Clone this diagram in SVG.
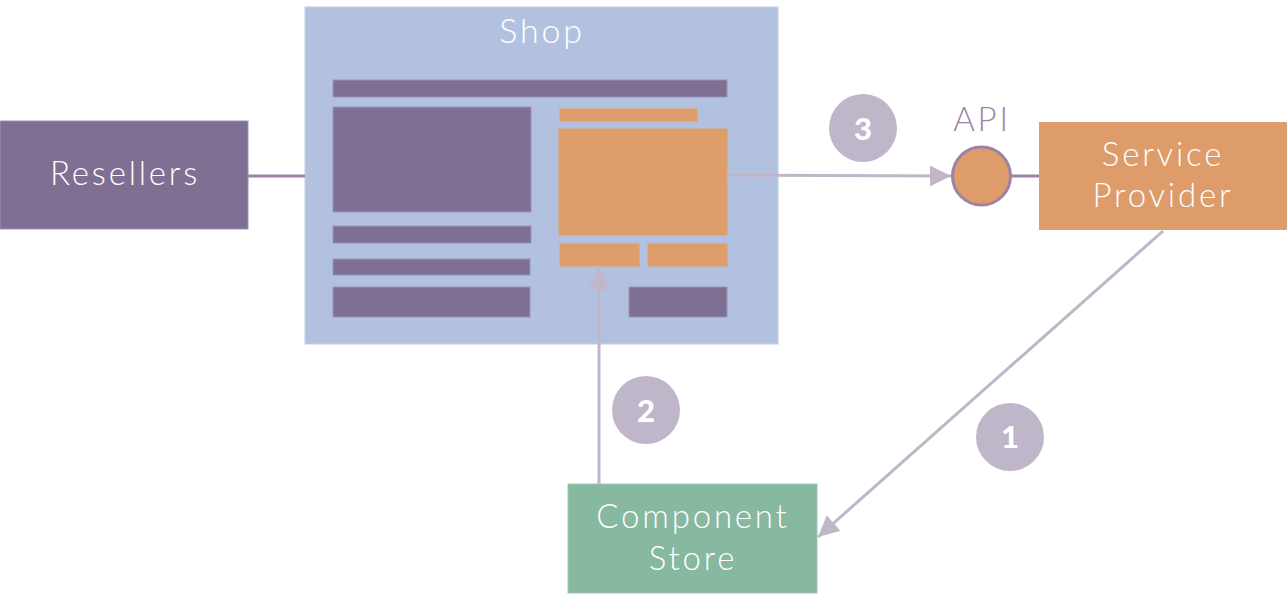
<svg xmlns="http://www.w3.org/2000/svg" width="1287" height="602" viewBox="0 0 1287 602">
<defs>
<style>
.lbl{font-family:Lato,"Noto Sans","Liberation Sans",sans-serif;font-weight:300;fill:#ffffff;text-anchor:middle;letter-spacing:2.8px}
.num{font-family:Lato,"DejaVu Sans","Liberation Sans",sans-serif;font-weight:900;fill:#ffffff;text-anchor:middle;font-size:31px}
.badge{fill:#bfb6c9}
.pu{fill:#7f6f93;stroke:#9d93b8;stroke-width:1}
.or{fill:#dd9c69;stroke:#e2a060;stroke-width:1}
.flow{stroke:#c0b6c8;stroke-width:3;fill:none}
.link{stroke:#9e82a5;stroke-width:3;fill:none}
</style>
<marker id="ah" viewBox="0 0 10 10" refX="10" refY="5" markerWidth="7" markerHeight="7" markerUnits="strokeWidth" orient="auto">
<path d="M0,0 L10,5 L0,10 z" fill="#c0b6c8"/>
</marker>
</defs>
<rect width="1287" height="602" fill="#ffffff"/>
<g id="shop">
<rect x="305" y="7" width="473" height="337" fill="#b3c1e0" stroke="#c3cdea" stroke-width="1"/>
<text class="lbl" x="542" y="43" font-size="34">Shop</text>
<rect class="pu" x="333" y="80" width="394" height="17"/>
<rect class="pu" x="333" y="107" width="198" height="105"/>
<rect class="pu" x="333" y="226" width="198" height="17"/>
<rect class="pu" x="333" y="259" width="197" height="16"/>
<rect class="pu" x="333" y="287" width="197" height="30"/>
<rect class="pu" x="629" y="287" width="98" height="30"/>
<rect class="or" x="560" y="109" width="137" height="12"/>
<rect class="or" x="559" y="129" width="168" height="106"/>
<rect class="or" x="560" y="244" width="79" height="22"/>
<rect class="or" x="648" y="244" width="79" height="22"/>
</g>
<g id="connectors">
<line class="link" x1="248" y1="176" x2="305" y2="176"/>
<line class="link" x1="1011" y1="176" x2="1039" y2="176"/>
<line class="flow" x1="727" y1="175" x2="951" y2="176" marker-end="url(#ah)"/>
<line class="flow" x1="599" y1="484" x2="599" y2="268" marker-end="url(#ah)"/>
<line class="flow" x1="1163" y1="231" x2="818" y2="537" marker-end="url(#ah)"/>
</g>
<g id="resellers">
<rect x="0" y="121" width="248" height="108" fill="#7f6f93" stroke="#9d93b8" stroke-width="1"/>
<text class="lbl" x="125" y="185" font-size="33">Resellers</text>
</g>
<g id="api">
<circle cx="981.5" cy="176" r="29" fill="#dd9c69" stroke="#9e82a5" stroke-width="3"/>
<text class="lbl" x="982" y="131" font-size="33" style="fill:#9e82a5">API</text>
</g>
<g id="service-provider">
<rect x="1039" y="122" width="248" height="108" fill="#dd9c69"/>
<text class="lbl" x="1163" y="166" font-size="33">Service</text>
<text class="lbl" x="1163" y="207" font-size="33">Provider</text>
</g>
<g id="component-store">
<rect x="568" y="484" width="249" height="109" fill="#87b8a0" stroke="#a0c8b4" stroke-width="1"/>
<text class="lbl" x="693" y="528" font-size="33">Component</text>
<text class="lbl" x="693" y="570" font-size="33">Store</text>
</g>
<g id="step-3">
<circle class="badge" cx="863" cy="128" r="34"/>
<text class="num" x="863" y="140">3</text>
</g>
<g id="step-2">
<circle class="badge" cx="646" cy="410" r="34"/>
<text class="num" x="646" y="422">2</text>
</g>
<g id="step-1">
<circle class="badge" cx="1010" cy="437" r="34"/>
<text class="num" x="1010" y="448">1</text>
</g>
</svg>
